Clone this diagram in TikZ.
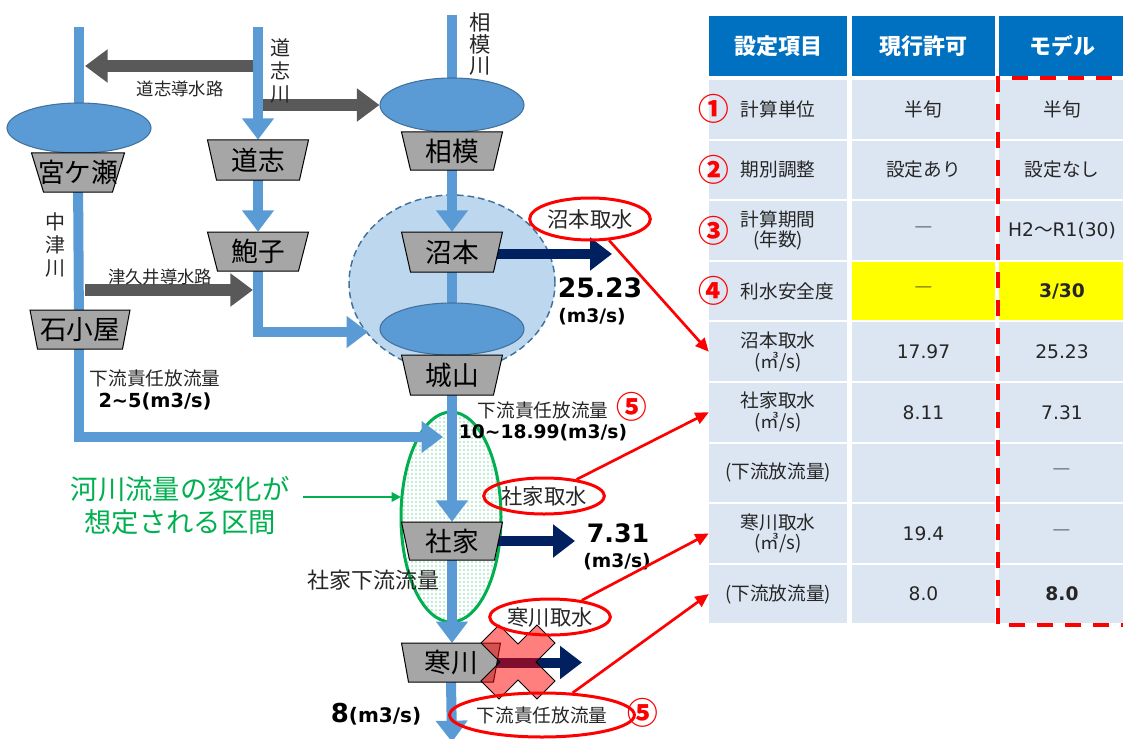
\documentclass[tikz,border=0pt]{standalone}
\usepackage{fontspec}
\setmainfont{DejaVu Sans}
\newfontfamily\jp{Noto Sans CJK JP}
\newfontfamily\num{DejaVu Sans}
\usetikzlibrary{arrows.meta,shapes.geometric,patterns}
\definecolor{riverc}{HTML}{5B9BD5}
\definecolor{resedge}{HTML}{41719C}
\definecolor{damgray}{HTML}{A6A6A6}
\definecolor{grayc}{HTML}{595959}
\definecolor{navyc}{HTML}{002060}
\definecolor{lightb}{HTML}{BDD7EE}
\definecolor{greenc}{HTML}{00B050}
\definecolor{cellc}{HTML}{DCE6F2}
\definecolor{headc}{HTML}{0070C0}
\definecolor{yellowc}{HTML}{FFFF00}
\definecolor{txtc}{HTML}{262626}
\pgfdeclarelayer{back}
\pgfdeclarelayer{mid}
\pgfsetlayers{back,mid,main}
\tikzset{
  riverln/.style={draw=riverc, line width=7.5pt},
  riverarr/.style={riverln, -{Triangle[length=16pt,width=23pt]}},
  grayarr/.style={draw=grayc, line width=9pt, -{Triangle[length=17pt,width=24pt]}},
  navyarr/.style={draw=navyc, line width=7.5pt, -{Triangle[length=16.5pt,width=24pt]}},
  res/.style={ellipse, draw=resedge, fill=riverc, line width=0.8pt, inner sep=0pt, minimum width=108pt},
  damst/.style={draw=black, fill=damgray, line width=0.75pt, line join=miter},
  damtxt/.style={font=\jp\fontsize{20}{20}\selectfont, text=black, inner sep=0pt},
  lbl/.style={font=\jp\fontsize{13}{15}\selectfont, text=txtc, inner sep=0pt},
  lblb/.style={font=\jp\fontsize{14}{16}\selectfont, text=txtc, inner sep=0pt},
  vlbl/.style={font=\jp\fontsize{15}{17}\selectfont, text=txtc, align=center, inner sep=0pt},
  bnum/.style={font=\num\bfseries\fontsize{14}{16}\selectfont, text=black, inner sep=0pt},
  bignum/.style={font=\num\bfseries\fontsize{20}{22}\selectfont, text=black, inner sep=0pt},
  redell/.style={ellipse, draw=red, line width=2.25pt, inner sep=0pt, font=\jp\fontsize{16}{18}\selectfont, text=txtc},
  redconn/.style={draw=red, line width=2pt, -{Triangle[length=10pt,width=9pt]}},
  circnum/.style={font=\jp\bfseries\fontsize{23}{23}\selectfont, text=red, inner sep=0pt},
  cell/.style={rectangle, fill=cellc, inner sep=0pt, minimum height=43.875pt, font=\jp\fontsize{14}{15.5}\selectfont, text=txtc, align=center},
  c1/.style={cell, minimum width=103.5pt},
  c2/.style={cell, minimum width=107.25pt},
  c3/.style={cell, minimum width=94.5pt},
  head/.style={fill=headc, minimum height=45pt, text=white, font=\jp\bfseries\fontsize{16.5}{18}\selectfont},
  yel/.style={fill=yellowc},
  reddash/.style={draw=red, line width=3pt, dash pattern=on 12pt off 9pt},
}
% #1 name, #2 cx, #3 cy, #4 top half width, #5 bottom half width, #6 half height, #7 text
\newcommand\damnode[7]{%
  \draw[damst] ({#2-#4},{#3-#6}) -- ({#2+#4},{#3-#6}) -- ({#2+#5},{#3+#6}) -- ({#2-#5},{#3+#6}) -- cycle;
  \node[damtxt, minimum width={2*#4*0.75pt}, minimum height={2*#6*0.75pt}] (#1) at (#2,#3) {#7};
}
\begin{document}
\begin{tikzpicture}[x=0.75pt,y=-0.75pt]
\path[use as bounding box] (0,0) rectangle (1123,738);

% ---------- table ----------
\node[c1,head] (h1) at (778,46) {設定項目};
\node[c2,head] (h2) at (923.5,46) {現行許可};
\node[c3,head] (h3) at (1062,46) {モデル};

\node[c1] (r1a) at (778,109.3) {計算単位};
\node[c2] (r1b) at (923.5,109.3) {半旬};
\node[c3] (r1c) at (1062,109.3) {半旬};

\node[c1] (r2a) at (778,169.9) {期別調整};
\node[c2] (r2b) at (923.5,169.9) {設定あり};
\node[c3] (r2c) at (1062,169.9) {設定なし};

\node[c1] (r3a) at (778,230.5) {計算期間\\(年数)};
\node[c2] (r3b) at (923.5,230.5) {―};
\node[c3] (r3c) at (1062,230.5) {{\num H2}～{\num R1(30)}};

\node[c1] (r4a) at (778,291.1) {\hspace*{14pt}利水安全度};
\node[c2,yel] (r4b) at (923.5,291.1) {―};
\node[c3,yel] (r4c) at (1062,291.1) {{\num\bfseries 3/30}};

\node[c1] (r5a) at (778,351.7) {沼本取水\\(㎥/s)};
\node[c2] (r5b) at (923.5,351.7) {{\num 17.97}};
\node[c3] (r5c) at (1062,351.7) {{\num 25.23}};

\node[c1] (r6a) at (778,412.3) {社家取水\\(㎥/s)};
\node[c2] (r6b) at (923.5,412.3) {{\num 8.11}};
\node[c3] (r6c) at (1062,412.3) {{\num 7.31}};

\node[c1] (r7a) at (778,472.9) {(下流放流量)};
\node[c2] (r7b) at (923.5,472.9) {};
\node[c3] (r7c) at (1062,472.9) {―};

\node[c1] (r8a) at (778,533.5) {寒川取水\\(㎥/s)};
\node[c2] (r8b) at (923.5,533.5) {{\num 19.4}};
\node[c3] (r8c) at (1062,533.5) {―};

\node[c1] (r9a) at (778,594.1) {(下流放流量)};
\node[c2] (r9b) at (923.5,594.1) {{\num 8.0}};
\node[c3] (r9c) at (1062,594.1) {{\num\bfseries 8.0}};

\node[circnum] (k1) at (714,109.3) {①};
\node[circnum] (k2) at (714,169.9) {②};
\node[circnum] (k3) at (714,230.5) {③};
\node[circnum] (k4) at (714,291.1) {④};

\draw[reddash] (1140,78) -- (998,78) -- (998,625) -- (1140,625);

% ---------- background areas ----------
\begin{pgfonlayer}{back}
\node[ellipse, draw=resedge, dashed, dash pattern=on 5pt off 3pt, line width=1.1pt, fill=lightb, minimum width=154.5pt, minimum height=132pt, inner sep=0pt] (bigc) at (452,283) {};
\node[ellipse, draw=greenc, line width=2.25pt, pattern=dots, pattern color=greenc, minimum width=75pt, minimum height=157.5pt, inner sep=0pt] (greenEll) at (451,517) {};
\end{pgfonlayer}

% ---------- reservoirs and dams ----------
\node[res, minimum height=37.5pt] (miyaRes) at (79,128) {};
\damnode{miyaDam}{78}{172.5}{46.5}{34.5}{19.5}{宮ケ瀬}
\damnode{ishiDam}{80}{329.5}{50}{42.5}{19.5}{石小屋}
\damnode{doshiDam}{258}{160}{50.5}{41.5}{20}{道志}
\damnode{ayukoDam}{258}{251.5}{50.5}{40.5}{19.5}{鮑子}

\node[res, minimum height=40.5pt] (sagamiRes) at (452,105) {};
\damnode{sagamiDam}{452}{151}{50.5}{41.5}{19}{相模}
\damnode{numotoDam}{452}{252}{50.5}{41.5}{20}{沼本}
\node[res, minimum height=39pt] (shiroRes) at (452,329) {};
\damnode{shiroDam}{452}{375}{50.5}{41.5}{20}{城山}
\damnode{shakeDam}{452}{541}{50.5}{42.5}{19}{社家}
\damnode{samuDam}{451}{662.5}{49.5}{42.5}{19.5}{寒川}

% ---------- coordinates ----------
\coordinate (miyaTop) at (79,27);
\coordinate (ishiEnd) at (443,437);
\coordinate (doshiTop) at (258,27);
\coordinate (ayukoEnd) at (368,332);
\coordinate (sagamiTop) at (452,15);
\coordinate (riverEnd) at (452,742);
\coordinate (dj1s) at (253,66);
\coordinate (dj1e) at (85,66);
\coordinate (dj2s) at (263,105);
\coordinate (tks) at (85,290);
\coordinate (tke) at (253,290);
\coordinate (numotoOut) at (612,254);
\coordinate (shakeOut) at (575,541);
\coordinate (samuOut) at (582,662.5);
\coordinate (greenS) at (303,497);
\coordinate (greenE) at (401,497);

% ---------- rivers ----------
\begin{pgfonlayer}{mid}
\draw[riverln] (miyaTop) -- (miyaRes.center);
\draw[riverln] (miyaDam.center) -- (79,330);
\draw[riverarr] (ishiDam.center) ++(-1,0) |- (ishiEnd);
\draw[riverarr] (doshiTop) -- (doshiDam.north);
\draw[riverarr] (doshiDam.south) -- (ayukoDam.north);
\draw[riverarr] (ayukoDam.center) |- (ayukoEnd);
\draw[riverln] (sagamiTop) -- (sagamiRes.center);
\draw[riverarr] (sagamiDam.south) -- (numotoDam.north);
\draw[riverln] (numotoDam.center) -- (shiroRes.center);
\draw[riverarr] (shiroDam.south) -- (shakeDam.north);
\draw[riverarr] (shakeDam.south) -- (452,643);
\draw[riverarr] (samuDam.south) -- (riverEnd);
\draw[grayarr] (dj1s) -- (dj1e);
\draw[grayarr] (dj2s) -- (sagamiRes.west);
\draw[grayarr] (tks) -- (tke);
\draw[navyarr] (numotoDam.center |- numotoOut) -- (numotoOut);
\draw[navyarr] (shakeDam.center) -- (shakeOut);
\draw[navyarr] (samuDam.center) -- (samuOut);
\end{pgfonlayer}

% ---------- labels ----------
\node[vlbl] (nakatsuR) at (55,245) {中\\津\\川};
\node[vlbl] (doshiR) at (280,71) {道\\志\\川};
\node[vlbl, font=\jp\fontsize{16}{16.2}\selectfont] (sagamiR) at (480,44) {相\\模\\川};
\node[lbl] (djLbl) at (180,89) {道志導水路};
\node[lbl] (tkLbl) at (160,277) {津久井導水路};
\node[lblb] (dd1) at (155,378) {下流責任放流量};
\node[bnum, font=\num\bfseries\fontsize{14.5}{16}\selectfont] (dd1n) at (155,401) {2\textasciitilde5(m3/s)};
\node[lblb] (dd2) at (543,410) {下流責任放流量};
\node[circnum] (five1) at (632,407) {⑤};
\node[bnum] (dd2n) at (543,433) {10\textasciitilde18.99(m3/s)};
\node[lbl, font=\jp\fontsize{16.5}{18}\selectfont] (shakeLow) at (373,580) {社家下流流量};
\node[bignum] (n2523) at (600,288) {25.23};
\node[bnum] (u2523) at (592,317) {(m3/s)};
\node[bignum, font=\num\bfseries\fontsize{19}{21}\selectfont] (n731) at (618,533) {7.31};
\node[bnum] (u731) at (617,562) {(m3/s)};
\node[inner sep=0pt, anchor=base, font=\num\bfseries] (n8) at (376,722) {{\fontsize{19.5}{20}\selectfont 8}{\fontsize{15}{16}\selectfont(m3/s)}};
\node[circnum] (five2) at (643,713) {⑤};

\node[font=\jp\fontsize{20.5}{24.75}\selectfont, text=greenc, align=center, inner sep=0pt] (greenTxt) at (180,506) {河川流量の変化が\\想定される区間};
\draw[draw=greenc, line width=1.9pt, -{Triangle[length=7pt,width=7pt]}] (greenS) -- (greenE);

% ---------- cross ----------
\draw[fill=red, fill opacity=0.5, draw=black, line width=0.75pt]
  (481,643) -- (499,625) -- (518,644) -- (537,625) -- (555,643) -- (536,662)
  -- (555,681) -- (537,699) -- (518,680) -- (499,699) -- (481,681) -- (500,662) -- cycle;

% ---------- red callouts ----------
\node[redell, minimum width=85.5pt, minimum height=31.5pt] (numTori) at (590,219) {沼本取水};
\node[redell, minimum width=84pt, minimum height=27pt] (shakeTori) at (544,496) {社家取水};
\node[redell, minimum width=85.5pt, minimum height=27pt] (samuTori) at (550,617) {寒川取水};
\node[redell, minimum width=118.5pt, minimum height=33pt, font=\jp\fontsize{14}{16}\selectfont] (botTori) at (542,715) {下流責任放流量};

\draw[redconn] (numTori) -- (r5a.west);
\draw[redconn] (shakeTori) -- (r6a.west);
\draw[redconn] (samuTori) -- (r8a.west);
\draw[redconn] (botTori) -- (r9a.west);
\end{tikzpicture}
\end{document}
